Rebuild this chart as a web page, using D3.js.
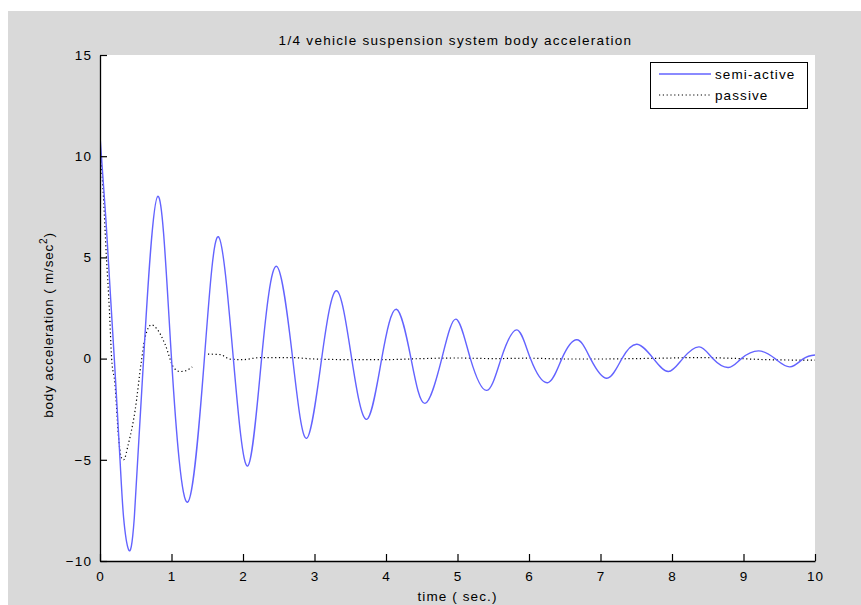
<!DOCTYPE html>
<html>
<head>
<meta charset="utf-8">
<script src="https://cdn.jsdelivr.net/npm/d3@7"></script>
<style>
  html, body { margin: 0; padding: 0; background: #ffffff; }
  svg { display: block; }
  text { font-family: "Liberation Sans", Arial, Helvetica, sans-serif; fill: #000; }
</style>
</head>
<body>
<svg id="chart" width="861" height="605"></svg>
<script>
// ---- data ----
const title = "1/4 vehicle suspension system body acceleration";
const xLabel = "time ( sec.)";
const yLabelMain = "body acceleration  ( m/sec";
const yLabelSup = "2";
const yLabelEnd = ")";
const seriesNames = ["semi-active", "passive"];
const xTicks = [0, 1, 2, 3, 4, 5, 6, 7, 8, 9, 10];
const yTicks = [-10, -5, 0, 5, 10, 15];

// semi-active: time (s) and body acceleration (m/s^2)
const semiT = [0.00, 0.08, 0.15, 0.20, 0.28, 0.33, 0.40, 0.48, 0.61, 0.81, 1.00, 1.226, 1.46, 1.655, 1.865, 2.065, 2.26, 2.47, 2.695, 2.89, 3.10, 3.31, 3.52, 3.73, 3.94, 4.145, 4.35, 4.545, 4.78, 4.98, 5.18, 5.41, 5.61, 5.83, 6.02, 6.26, 6.46, 6.67, 6.86, 7.09, 7.30, 7.51, 7.74, 7.95, 8.15, 8.38, 8.57, 8.79, 8.97, 9.21, 9.44, 9.65, 9.84, 10.00];
const semiV = [11.0, 7.0, 2.9, 0.0, -5.0, -7.85, -9.44, -7.85, 0.0, 8.02, 0.0, -7.09, 0.0, 6.02, 0.0, -5.31, 0.0, 4.56, 0.0, -3.94, 0.0, 3.35, 0.0, -3.00, 0.0, 2.44, 0.0, -2.21, 0.0, 1.95, 0.0, -1.57, 0.0, 1.42, 0.0, -1.19, 0.0, 0.93, 0.0, -0.97, 0.0, 0.71, 0.0, -0.64, 0.0, 0.58, 0.0, -0.44, 0.0, 0.38, 0.0, -0.41, 0.0, 0.18];

// passive: time (s) and body acceleration (m/s^2); null = gap in the trace
const passT = [0.00, 0.04, 0.09, 0.13, 0.163, 0.21, 0.256, 0.30, 0.33, 0.396, 0.49, 0.58, 0.63, 0.72, 0.80, 0.91, 1.03, 1.12, 1.20, 1.29, 1.40, 1.51, 1.68, 1.82, 2.00, 2.24, 2.66, 3.00, 3.50, 4.00, 4.50, 5.00, 5.50, 6.00, 6.50, 7.00, 7.50, 8.00, 8.30, 8.80, 9.30, 10.00];
const passV = [10.3, 8.5, 5.0, 2.5, 0.0, -1.27, -3.74, -4.9, -5.0, -4.23, -2.58, -0.1, 1.04, 1.67, 1.45, 0.71, -0.44, -0.64, -0.6, -0.41, null, 0.22, 0.20, -0.03, -0.05, 0.05, 0.05, -0.02, -0.05, -0.05, 0.0, 0.03, 0.0, 0.02, -0.02, -0.02, 0.0, 0.03, 0.05, 0.02, -0.05, -0.08];

// ---- layout ----
const W = 861, H = 605;
const plot = { left: 100, right: 815, top: 55, bottom: 561 };
const FONT = 13.5, LS = 1.1;

const svg = d3.select("#chart");

svg.append("rect").attr("x", 8).attr("y", 11).attr("width", W - 8).attr("height", H - 11).attr("fill", "#d9d9d9");
svg.append("rect").attr("x", plot.left).attr("y", plot.top)
  .attr("width", plot.right - plot.left).attr("height", plot.bottom - plot.top).attr("fill", "#ffffff");

const x = d3.scaleLinear().domain([0, 10]).range([plot.left, plot.right]);
const y = d3.scaleLinear().domain([-10, 15]).range([plot.bottom, plot.top]);

const semi = semiT.map((t, i) => ({ t, v: semiV[i] }));
const pass = passT.map((t, i) => ({ t, v: passV[i] }));

svg.append("clipPath").attr("id", "clip").append("rect")
  .attr("x", plot.left).attr("y", plot.top - 2).attr("width", plot.right - plot.left + 1).attr("height", plot.bottom - plot.top + 2);

const g = svg.append("g").attr("clip-path", "url(#clip)");

const passLine = d3.line().defined(d => d.v !== null).x(d => x(d.t)).y(d => y(d.v)).curve(d3.curveMonotoneX);
const semiLine = d3.line().x(d => x(d.t)).y(d => y(d.v)).curve(d3.curveNatural);

g.append("path").datum(pass).attr("d", passLine).attr("fill", "none")
  .attr("stroke", "#000").attr("stroke-width", 1.2).attr("stroke-dasharray", "1.2,2.6");
g.append("path").datum(semi).attr("d", semiLine).attr("fill", "none")
  .attr("stroke", "#6363ff").attr("stroke-width", 1.4);

// axes (MATLAB style: ticks inside, no box)
const xAxis = d3.axisBottom(x).tickValues(xTicks).tickFormat(d3.format("d")).tickSizeInner(-7).tickSizeOuter(0).tickPadding(10);
const yAxis = d3.axisLeft(y).tickValues(yTicks).tickFormat(d3.format("d")).tickSizeInner(-7).tickSizeOuter(0).tickPadding(8);

const gx = svg.append("g").attr("transform", `translate(0,${plot.bottom})`).call(xAxis);
const gy = svg.append("g").attr("transform", `translate(${plot.left},0)`).call(yAxis);
[gx, gy].forEach(a => {
  a.select(".domain").attr("stroke", "#000").attr("stroke-width", 1.3);
  a.selectAll(".tick line").attr("stroke", "#000").attr("stroke-width", 1.2);
  a.selectAll(".tick text").attr("font-size", FONT).attr("letter-spacing", LS)
    .attr("font-family", '"Liberation Sans", Arial, sans-serif').attr("fill", "#000");
});

// title and labels
svg.append("text").attr("x", (plot.left + plot.right) / 2 - 2).attr("y", 45)
  .attr("text-anchor", "middle").attr("font-size", FONT).attr("letter-spacing", 1.3).text(title);

svg.append("text").attr("x", (plot.left + plot.right) / 2).attr("y", 601)
  .attr("text-anchor", "middle").attr("font-size", FONT).attr("letter-spacing", LS).text(xLabel);

const yl = svg.append("text").attr("transform", `translate(53,325) rotate(-90)`)
  .attr("text-anchor", "middle").attr("font-size", FONT).attr("letter-spacing", 0.8);
yl.append("tspan").text(yLabelMain);
yl.append("tspan").attr("dy", -6).attr("font-size", FONT * 0.75).text(yLabelSup);
yl.append("tspan").attr("dy", 6).text(yLabelEnd);

// legend
const lg = svg.append("g");
lg.append("rect").attr("x", 650.5).attr("y", 62.5).attr("width", 157).attr("height", 46)
  .attr("fill", "#fff").attr("stroke", "#000").attr("stroke-width", 1);
const legendStyles = [
  { stroke: "#6363ff", dash: null, w: 1.4 },
  { stroke: "#000", dash: "1.2,2.6", w: 1.2 }
];
seriesNames.forEach((name, i) => {
  const yy = 74 + i * 21;
  lg.append("line").attr("x1", 659).attr("x2", 711).attr("y1", yy).attr("y2", yy)
    .attr("stroke", legendStyles[i].stroke).attr("stroke-width", legendStyles[i].w)
    .attr("stroke-dasharray", legendStyles[i].dash);
  lg.append("text").attr("x", 715).attr("y", yy + 5).attr("font-size", FONT).attr("letter-spacing", LS).text(name);
});
</script>
</body>
</html>
